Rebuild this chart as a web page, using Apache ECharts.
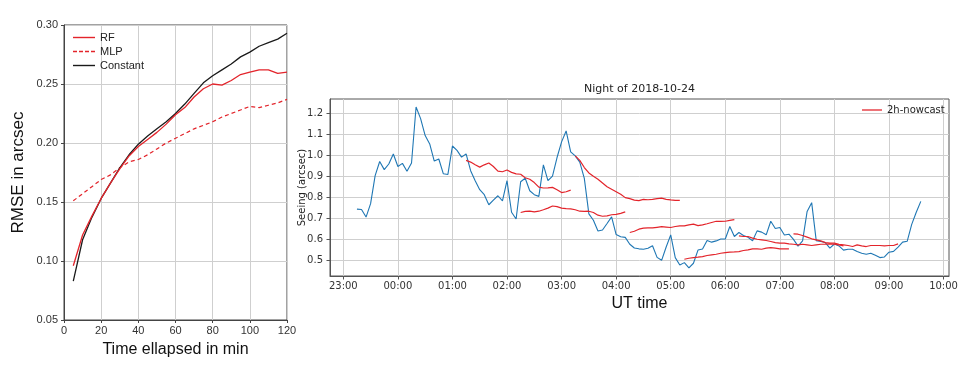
<!DOCTYPE html>
<html>
<head>
    <meta charset="utf-8">
    <title>RMSE and nowcast</title>
    <script src="https://cdn.jsdelivr.net/npm/echarts@6/dist/echarts.min.js"></script>
    <style>
        html, body { margin: 0; padding: 0; background: #fff; }
        #chart { width: 958px; height: 368px; }
    </style>
</head>
<body>
    <div id="chart"></div>
    <script type="text/javascript">

        // ---- left panel: RMSE vs elapsed time ----
        var minutes = [5, 10, 15, 20, 25, 30, 35, 40, 45, 50, 55, 60,
                       65, 70, 75, 80, 85, 90, 95, 100, 105, 110, 115, 120];
        var rfRmse = [0.096, 0.122, 0.138, 0.153, 0.166, 0.178, 0.189, 0.197, 0.203, 0.209, 0.216, 0.224,
                      0.230, 0.239, 0.246, 0.250, 0.249, 0.253, 0.258, 0.260, 0.262, 0.262, 0.259, 0.260];
        var mlpRmse = [0.151, 0.157, 0.163, 0.169, 0.173, 0.179, 0.184, 0.186, 0.190, 0.195, 0.200, 0.204,
                       0.208, 0.212, 0.215, 0.218, 0.222, 0.225, 0.228, 0.231, 0.230, 0.232, 0.234, 0.237];
        var constRmse = [0.083, 0.118, 0.137, 0.153, 0.166, 0.179, 0.190, 0.199, 0.206, 0.212, 0.218, 0.225,
                         0.233, 0.242, 0.251, 0.257, 0.262, 0.267, 0.273, 0.277, 0.282, 0.285, 0.288, 0.293];

        // ---- right panel: seeing on the night of 2018-10-24 ----
        var seeingTimes = [
            '23:15','23:20','23:25','23:30','23:35','23:40','23:45','23:50','23:55',
            '00:00','00:05','00:10','00:15','00:20','00:25','00:30','00:35','00:40','00:45','00:50','00:55',
            '01:00','01:05','01:10','01:15','01:20','01:25','01:30','01:35','01:40','01:45','01:50','01:55',
            '02:00','02:05','02:10','02:15','02:20','02:25','02:30','02:35','02:40','02:45','02:50','02:55',
            '03:00','03:05','03:10','03:15','03:20','03:25','03:30','03:35','03:40','03:45','03:50','03:55',
            '04:00','04:05','04:10','04:15','04:20','04:25','04:30','04:35','04:40','04:45','04:50','04:55',
            '05:00','05:05','05:10','05:15','05:20','05:25','05:30','05:35','05:40','05:45','05:50','05:55',
            '06:00','06:05','06:10','06:15','06:20','06:25','06:30','06:35','06:40','06:45','06:50','06:55',
            '07:00','07:05','07:10','07:15','07:20','07:25','07:30','07:35','07:40','07:45','07:50','07:55',
            '08:00','08:05','08:10','08:15','08:20','08:25','08:30','08:35','08:40','08:45','08:50','08:55',
            '09:00','09:05','09:10','09:15','09:20','09:25','09:30','09:35'
        ];
        var seeingValues = [
            0.743, 0.741, 0.705, 0.769, 0.903, 0.971, 0.932, 0.959, 1.007,
            0.947, 0.962, 0.924, 0.964, 1.232, 1.176, 1.095, 1.055, 0.973, 0.983, 0.912, 0.909,
            1.045, 1.024, 0.992, 1.007, 0.927, 0.879, 0.836, 0.812, 0.764, 0.786, 0.807, 0.783,
            0.879, 0.728, 0.696, 0.874, 0.891, 0.831, 0.812, 0.804, 0.955, 0.879, 0.901, 0.990,
            1.065, 1.117, 1.017, 0.998, 0.968, 0.890, 0.720, 0.690, 0.638, 0.643, 0.674, 0.706,
            0.621, 0.611, 0.608, 0.575, 0.557, 0.553, 0.551, 0.556, 0.568, 0.512, 0.498, 0.562,
            0.620, 0.511, 0.476, 0.487, 0.462, 0.484, 0.547, 0.552, 0.593, 0.585, 0.591, 0.600,
            0.600, 0.660, 0.612, 0.631, 0.617, 0.608, 0.592, 0.639, 0.633, 0.620, 0.685, 0.650,
            0.655, 0.619, 0.623, 0.598, 0.566, 0.591, 0.732, 0.774, 0.592, 0.588, 0.583, 0.556,
            0.576, 0.567, 0.547, 0.551, 0.551, 0.540, 0.532, 0.527, 0.532, 0.522, 0.511, 0.514,
            0.537, 0.541, 0.561, 0.585, 0.589, 0.670, 0.728, 0.780
        ];

        // 2h nowcasts, one issued every hour, sampled on the same times as seeingTimes
        var nowcastStarts = ['01:15', '02:15', '03:15', '04:15', '05:15', '06:15', '07:15'];
        var nowcast0115 = [0.976, 0.968, 0.955, 0.944, 0.955, 0.964, 0.947, 0.925, 0.922, 0.930, 0.919, 0.912,
                           0.910, 0.893, 0.886, 0.870, 0.848, 0.844, 0.845, 0.847, 0.836, 0.822, 0.826, 0.834];
        var nowcast0215 = [0.727, 0.732, 0.733, 0.730, 0.733, 0.740, 0.748, 0.758, 0.755, 0.748, 0.745, 0.744,
                           0.740, 0.733, 0.732, 0.733, 0.727, 0.714, 0.709, 0.711, 0.716, 0.718, 0.723, 0.730];
        var nowcast0315 = [0.998, 0.976, 0.942, 0.916, 0.900, 0.886, 0.868, 0.850, 0.838, 0.826, 0.814, 0.798,
                           0.793, 0.786, 0.784, 0.790, 0.788, 0.790, 0.793, 0.796, 0.790, 0.787, 0.785, 0.785];
        var nowcast0415 = [0.631, 0.637, 0.647, 0.652, 0.653, 0.653, 0.656, 0.659, 0.657, 0.655, 0.660, 0.663,
                           0.663, 0.668, 0.671, 0.664, 0.668, 0.673, 0.679, 0.685, 0.684, 0.685, 0.689, 0.693];
        var nowcast0515 = [0.503, 0.508, 0.511, 0.513, 0.516, 0.521, 0.524, 0.527, 0.532, 0.535, 0.537, 0.538,
                           0.540, 0.545, 0.548, 0.553, 0.553, 0.551, 0.556, 0.559, 0.556, 0.553, 0.553, 0.553];
        var nowcast0615 = [0.615, 0.612, 0.612, 0.604, 0.599, 0.596, 0.593, 0.588, 0.583, 0.580, 0.580, 0.577,
                           0.575, 0.572, 0.575, 0.572, 0.569, 0.572, 0.575, 0.575, 0.577, 0.575, 0.572, 0.567];
        var nowcast0715 = [0.625, 0.623, 0.617, 0.609, 0.601, 0.596, 0.591, 0.583, 0.580, 0.580, 0.575, 0.572,
                           0.569, 0.564, 0.572, 0.567, 0.564, 0.569, 0.569, 0.569, 0.567, 0.569, 0.569, 0.577];
        var nowcasts = [nowcast0115, nowcast0215, nowcast0315, nowcast0415, nowcast0515, nowcast0615, nowcast0715];
        var hourTicks = [23, 24, 25, 26, 27, 28, 29, 30, 31, 32, 33, 34];
        var seeingTicks = [0.5, 0.6, 0.7, 0.8, 0.9, 1.0, 1.1, 1.2];

        var RED = '#e3242b';
        var BLUE = '#1f77b4';
        var ARIAL = 'Liberation Sans, Arial, sans-serif';
        var DEJAVU = 'DejaVu Sans, sans-serif';
        // legend glyphs: plain line / dashed line, no marker
        var SOLID_ICON = 'path://M0,0H22V1.4H0Z';
        var DASH_ICON = 'path://M0,0H4V1.4H0Z M6,0H10V1.4H6Z M12,0H16V1.4H12Z M18,0H22V1.4H18Z';

        // "HH:MM" -> hours, the night continues past midnight
        function toHours(t) {
            var h = parseInt(t.substr(0, 2), 10);
            var m = parseInt(t.substr(3, 2), 10);
            if (h < 12) h += 24;
            return h + m / 60;
        }

        var chart = echarts.init(document.getElementById('chart'), null, {renderer: 'canvas'});

        var seeingData = seeingTimes.map(function (t, i) { return [toHours(t), seeingValues[i]]; });

        var series = [
            {
                name: 'RF', type: 'line', xAxisIndex: 0, yAxisIndex: 0, symbol: 'none',
                data: minutes.map(function (m, i) { return [m, rfRmse[i]]; }),
                lineStyle: {color: RED, width: 1.3}, itemStyle: {color: RED}, z: 3
            },
            {
                name: 'MLP', type: 'line', xAxisIndex: 0, yAxisIndex: 0, symbol: 'none',
                data: minutes.map(function (m, i) { return [m, mlpRmse[i]]; }),
                lineStyle: {color: RED, width: 1.2, type: [4, 3]}, itemStyle: {color: RED}, z: 2
            },
            {
                name: 'Constant', type: 'line', xAxisIndex: 0, yAxisIndex: 0, symbol: 'none',
                data: minutes.map(function (m, i) { return [m, constRmse[i]]; }),
                lineStyle: {color: '#1a1a1a', width: 1.3}, itemStyle: {color: '#1a1a1a'}, z: 2
            },
            {
                name: 'seeing', type: 'line', xAxisIndex: 1, yAxisIndex: 1, symbol: 'none',
                data: seeingData,
                lineStyle: {color: BLUE, width: 1.1}, itemStyle: {color: BLUE}, z: 2
            }
        ];

        nowcasts.forEach(function (vals, k) {
            var start = seeingTimes.indexOf(nowcastStarts[k]);
            series.push({
                name: '2h-nowcast', type: 'line', xAxisIndex: 1, yAxisIndex: 1, symbol: 'none',
                data: vals.map(function (v, i) { return [toHours(seeingTimes[start + i]), v]; }),
                lineStyle: {color: RED, width: 1.2}, itemStyle: {color: RED}, z: 3
            });
        });

        var option = {
            animation: false,
            backgroundColor: '#fff',
            title: {
                text: 'Night of 2018-10-24',
                left: 584, top: 84, padding: 0,
                textStyle: {fontFamily: DEJAVU, fontSize: 11, fontWeight: 'normal', color: '#222'}
            },
            legend: [
                {
                    data: [
                        {name: 'RF', icon: SOLID_ICON},
                        {name: 'MLP', icon: DASH_ICON},
                        {name: 'Constant', icon: SOLID_ICON}
                    ],
                    orient: 'vertical', left: 73, top: 31, padding: 0,
                    itemWidth: 22, itemHeight: 1.4, itemGap: 1,
                    textStyle: {fontFamily: ARIAL, fontSize: 11, color: '#222', lineHeight: 13}
                },
                {
                    data: [{name: '2h-nowcast', icon: SOLID_ICON}],
                    left: 862, top: 105, padding: 0,
                    itemWidth: 20, itemHeight: 1.4,
                    textStyle: {fontFamily: DEJAVU, fontSize: 10, color: '#222'}
                }
            ],
            grid: [
                {left: 64, top: 25, width: 223, height: 295, show: true,
                 borderColor: '#444', borderWidth: 1, containLabel: false, outerBoundsMode: 'none'},
                {left: 330, top: 99, width: 619, height: 177, show: true,
                 borderColor: '#555', borderWidth: 1, containLabel: false, outerBoundsMode: 'none'}
            ],
            xAxis: [
                {
                    gridIndex: 0, type: 'value', min: 0, max: 120, interval: 20,
                    name: 'Time ellapsed in min', nameLocation: 'middle', nameGap: 22,
                    nameTextStyle: {fontFamily: ARIAL, fontSize: 16, color: '#111'},
                    axisLine: {lineStyle: {color: '#444'}},
                    axisTick: {show: true, length: 3, lineStyle: {color: '#444'}},
                    axisLabel: {fontFamily: ARIAL, fontSize: 11, color: '#333', margin: 5},
                    splitLine: {show: true, lineStyle: {color: '#cfcfcf', width: 1}}
                },
                {
                    gridIndex: 1, type: 'value', min: 22.756, max: 34.1,
                    name: 'UT time', nameLocation: 'middle', nameGap: 20,
                    nameTextStyle: {fontFamily: ARIAL, fontSize: 16, color: '#111'},
                    axisLine: {lineStyle: {color: '#555'}},
                    axisTick: {show: true, length: 3.5, lineStyle: {color: '#555'}, customValues: hourTicks},
                    axisLabel: {
                        fontFamily: DEJAVU, fontSize: 10, color: '#333', margin: 5,
                        customValues: hourTicks,
                        formatter: function (v) {
                            var h = Math.round(v) % 24;
                            return (h < 10 ? '0' : '') + h + ':00';
                        }
                    },
                    splitLine: {show: true, lineStyle: {color: '#cfcfcf', width: 1}}
                }
            ],
            yAxis: [
                {
                    gridIndex: 0, type: 'value', min: 0.05, max: 0.30, interval: 0.05,
                    name: 'RMSE in arcsec', nameLocation: 'middle', nameGap: 37, nameRotate: 90,
                    nameMoveOverlap: false,
                    nameTextStyle: {fontFamily: ARIAL, fontSize: 17, color: '#111'},
                    axisLine: {show: true, lineStyle: {color: '#444'}},
                    axisTick: {show: true, length: 3, lineStyle: {color: '#444'}},
                    axisLabel: {
                        fontFamily: ARIAL, fontSize: 11, color: '#333', margin: 6,
                        formatter: function (v) { return v.toFixed(2); }
                    },
                    splitLine: {show: true, lineStyle: {color: '#cfcfcf', width: 1}}
                },
                {
                    gridIndex: 1, type: 'value', min: 0.423, max: 1.27,
                    name: 'Seeing (arcsec)', nameLocation: 'middle', nameGap: 23, nameRotate: 90,
                    nameMoveOverlap: false,
                    nameTextStyle: {fontFamily: DEJAVU, fontSize: 10, color: '#222'},
                    axisLine: {show: true, lineStyle: {color: '#555'}},
                    axisTick: {show: true, length: 3.5, lineStyle: {color: '#555'}, customValues: seeingTicks},
                    axisLabel: {
                        fontFamily: DEJAVU, fontSize: 10, color: '#333', margin: 7,
                        customValues: seeingTicks,
                        formatter: function (v) { return v.toFixed(1); }
                    },
                    splitLine: {show: true, lineStyle: {color: '#cfcfcf', width: 1}}
                }
            ],
            series: series
        };

        chart.setOption(option);
    </script>
</body>
</html>
